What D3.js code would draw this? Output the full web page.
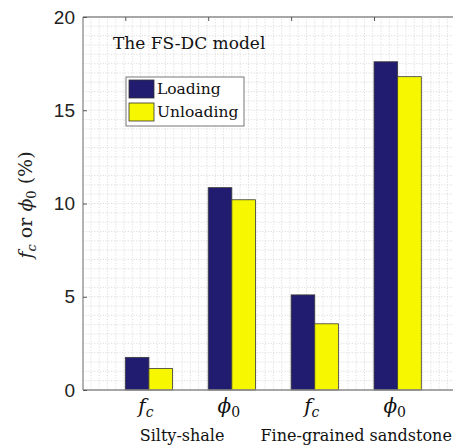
<!DOCTYPE html>
<html>
<head>
<meta charset="utf-8">
<script src="https://cdn.jsdelivr.net/npm/d3@7"></script>
<style>
  html, body { margin: 0; padding: 0; background: #fff; }
  svg { display: block; }
</style>
</head>
<body>
<svg id="chart" width="453" height="447"></svg>
<script>
// Group positions and labels
const groups = [1, 2, 3, 4];
const symbols = [
  { base: "f", sub: "c" },
  { base: "ϕ", sub: "0" },
  { base: "f", sub: "c" },
  { base: "ϕ", sub: "0" }
];
const rockTypes = ["Silty-shale", "Fine-grained sandstone"];
const rockCenters = [1.4, 3.5];

// Series values (%)
const loading   = [1.75, 10.85, 5.1, 17.6];
const unloading = [1.15, 10.2, 3.55, 16.8];

const yTicks = [0, 5, 10, 15, 20];
const seriesNames = ["Loading", "Unloading"];
const seriesColors = ["#221c70", "#f7f700"];

const svg = d3.select("#chart");
const plotLeft = 83, plotTop = 17, plotBottom = 390;

const x = d3.scaleLinear().domain([0.205, 4.8]).range([plotLeft, 464]);
const y = d3.scaleLinear().domain([0, 20]).range([plotBottom, plotTop]);
const barW = 0.285;

const serif = "DejaVu Serif, serif";
const sans = "Liberation Sans, Arial, sans-serif";

// Minor grid
const grid = svg.append("g");
d3.range(0.3, 4.8, 0.1).forEach(v => {
  grid.append("line")
    .attr("x1", x(v)).attr("x2", x(v)).attr("y1", y(0)).attr("y2", y(20))
    .attr("stroke", "#d6d6d6").attr("stroke-width", 0.8).attr("stroke-dasharray", "1.2,1.6");
});
d3.range(0.5, 20, 0.5).forEach(v => {
  grid.append("line")
    .attr("x1", x(0.205)).attr("x2", 453).attr("y1", y(v)).attr("y2", y(v))
    .attr("stroke", "#d6d6d6").attr("stroke-width", 0.8).attr("stroke-dasharray", "1.2,1.6");
});

// Bars
const bars = svg.append("g");
[loading, unloading].forEach((vals, s) => {
  bars.selectAll(null).data(groups).enter().append("rect")
    .attr("x", g => x(g - barW + s * barW))
    .attr("width", x(barW) - x(0))
    .attr("y", (g, i) => y(vals[i]))
    .attr("height", (g, i) => y(0) - y(vals[i]))
    .attr("fill", seriesColors[s])
    .attr("stroke", "#3a3a3a").attr("stroke-width", 0.8);
});

// Axis frame
const frame = svg.append("g").attr("stroke", "#8a8a8a").attr("stroke-width", 1.3);
frame.append("line").attr("x1", plotLeft).attr("x2", 453).attr("y1", y(0)).attr("y2", y(0));
frame.append("line").attr("x1", plotLeft).attr("x2", 453).attr("y1", y(20)).attr("y2", y(20));
frame.append("line").attr("x1", plotLeft).attr("x2", plotLeft).attr("y1", y(0)).attr("y2", y(20));

// Y axis with inward ticks
const yAxis = d3.axisLeft(y).tickValues(yTicks).tickSize(-4).tickPadding(8).tickFormat(d3.format("d"));
const ya = svg.append("g").attr("transform", `translate(${plotLeft},0)`).call(yAxis);
ya.select(".domain").remove();
ya.selectAll(".tick line").attr("stroke", "#555");
ya.selectAll("text").attr("font-family", sans).attr("font-size", 19).attr("fill", "#222");

// Top ticks
const xTop = d3.axisBottom(x).tickValues(groups.map(g => g - barW)).tickSize(4).tickFormat("");
const xt = svg.append("g").attr("transform", `translate(0,${plotTop})`).call(xTop);
xt.select(".domain").remove();
xt.selectAll(".tick line").attr("stroke", "#555");

// X labels: symbols
const xl = svg.append("g").attr("font-family", serif).attr("fill", "#111");
symbols.forEach((s, i) => {
  const t = xl.append("text").attr("x", x(groups[i]) - 3).attr("y", 413)
    .attr("text-anchor", "middle").attr("font-size", 20);
  t.append("tspan").attr("font-style", "italic").text(s.base);
  t.append("tspan").attr("font-size", 14).attr("dy", 4).attr("font-style", s.sub === "c" ? "italic" : "normal").text(s.sub);
});
rockTypes.forEach((r, i) => {
  xl.append("text").attr("x", x(rockCenters[i])).attr("y", 441)
    .attr("text-anchor", "middle").attr("font-size", 16).text(r);
});

// Y label
const yl = svg.append("text")
  .attr("transform", `translate(32,205) rotate(-90)`)
  .attr("text-anchor", "middle").attr("font-family", serif).attr("font-size", 19).attr("fill", "#222");
yl.append("tspan").attr("font-style", "italic").text("f");
yl.append("tspan").attr("font-style", "italic").attr("font-size", 13).attr("dy", 4).text("c");
yl.append("tspan").attr("dy", -4).text(" or ");
yl.append("tspan").attr("font-style", "italic").text("ϕ");
yl.append("tspan").attr("font-size", 13).attr("dy", 4).text("0");
yl.append("tspan").attr("dy", -4).text(" (%)");

// Title
svg.append("text").attr("x", 113).attr("y", 49)
  .attr("font-family", serif).attr("font-size", 17).attr("fill", "#111")
  .text("The FS-DC model");

// Legend
const lg = svg.append("g").attr("transform", "translate(126,77)");
lg.append("rect").attr("width", 118).attr("height", 49)
  .attr("fill", "#fff").attr("stroke", "#555").attr("stroke-width", 0.8);
seriesNames.forEach((n, i) => {
  lg.append("rect").attr("x", 3).attr("y", 3 + i * 23).attr("width", 25).attr("height", 18)
    .attr("fill", seriesColors[i]).attr("stroke", "#333").attr("stroke-width", 0.8);
  lg.append("text").attr("x", 31).attr("y", 17 + i * 23)
    .attr("font-family", serif).attr("font-size", 15.5).attr("fill", "#111").text(n);
});
</script>
</body>
</html>
